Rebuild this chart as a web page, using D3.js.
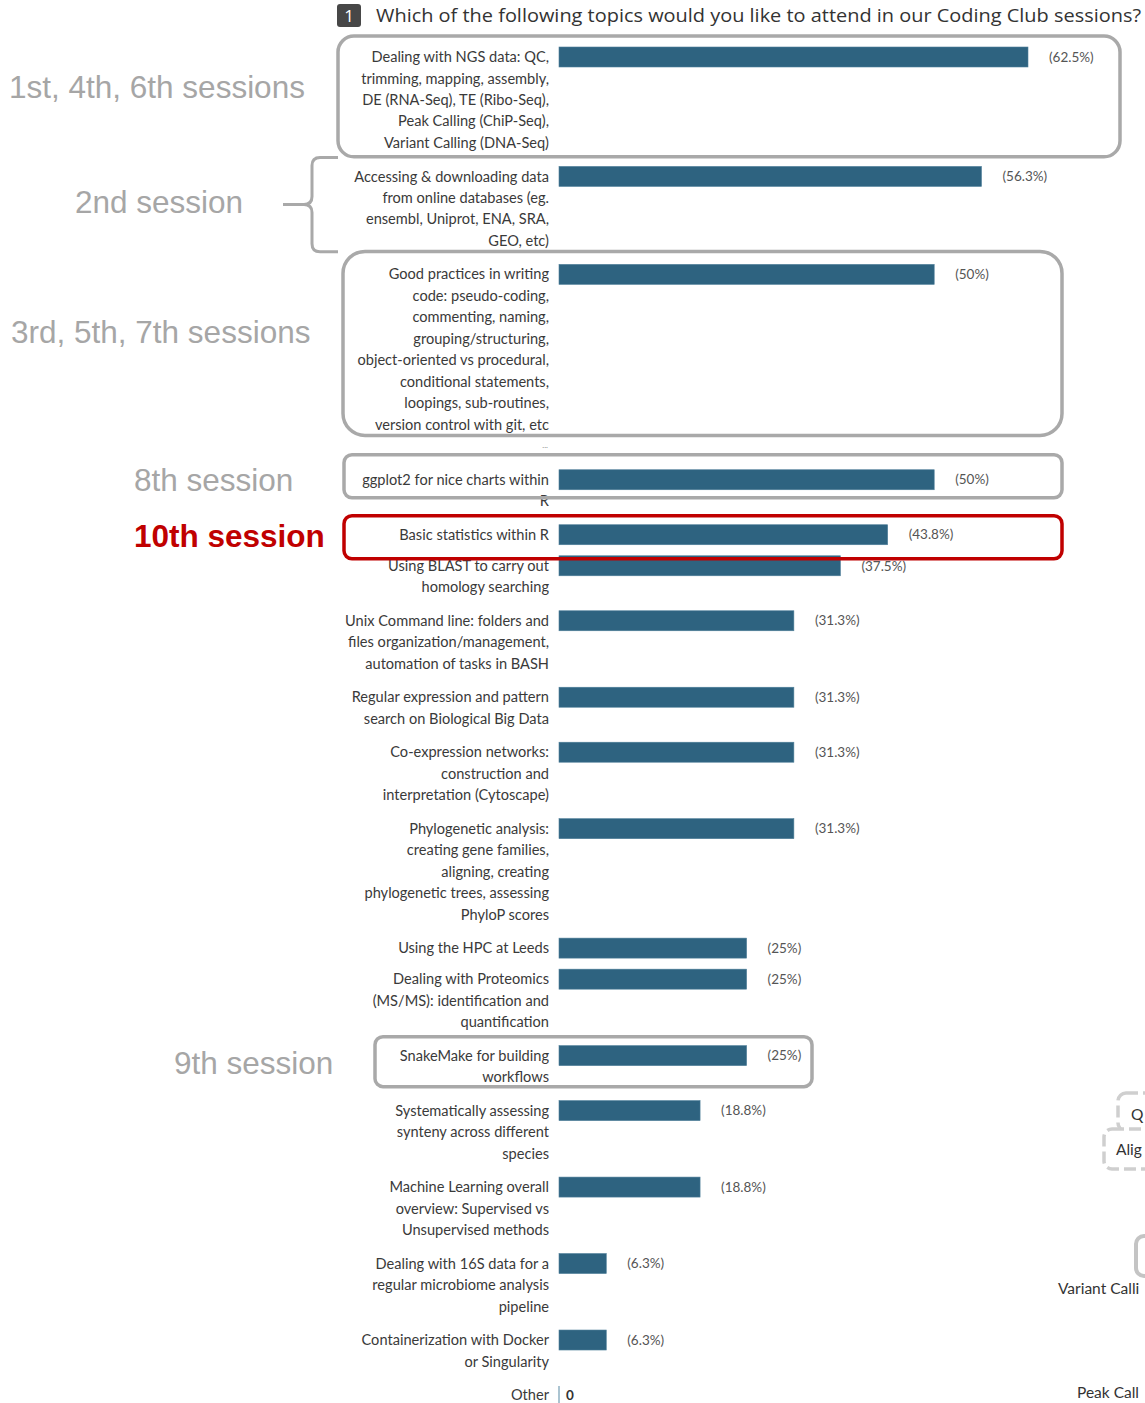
<!DOCTYPE html>
<html>
<head>
<meta charset="utf-8">
<script src="https://cdn.jsdelivr.net/npm/d3@7"></script>
<style>
  html, body { margin: 0; padding: 0; background: #fff; }
  svg { display: block; }
</style>
</head>
<body>
<svg id="chart" width="1145" height="1403"></svg>
<script>
// ---------------- DATA ----------------
const title = "Which of the following topics would you like to attend in our Coding Club sessions?";
const questionNumber = "1";

const categories = [
  ["Dealing with NGS data: QC,", "trimming, mapping, assembly,", "DE (RNA-Seq), TE (Ribo-Seq),", "Peak Calling (ChiP-Seq),", "Variant Calling (DNA-Seq)"],
  ["Accessing & downloading data", "from online databases (eg.", "ensembl, Uniprot, ENA, SRA,", "GEO, etc)"],
  ["Good practices in writing", "code: pseudo-coding,", "commenting, naming,", "grouping/structuring,", "object-oriented vs procedural,", "conditional statements,", "loopings, sub-routines,", "version control with git, etc", "..."],
  ["ggplot2 for nice charts within", "R"],
  ["Basic statistics within R"],
  ["Using BLAST to carry out", "homology searching"],
  ["Unix Command line: folders and", "files organization/management,", "automation of tasks in BASH"],
  ["Regular expression and pattern", "search on Biological Big Data"],
  ["Co-expression networks:", "construction and", "interpretation (Cytoscape)"],
  ["Phylogenetic analysis:", "creating gene families,", "aligning, creating", "phylogenetic trees, assessing", "PhyloP scores"],
  ["Using the HPC at Leeds"],
  ["Dealing with Proteomics", "(MS/MS): identification and", "quantification"],
  ["SnakeMake for building", "workflows"],
  ["Systematically assessing", "synteny across different", "species"],
  ["Machine Learning overall", "overview: Supervised vs", "Unsupervised methods"],
  ["Dealing with 16S data for a", "regular microbiome analysis", "pipeline"],
  ["Containerization with Docker", "or Singularity"],
  ["Other"]
];
const values = [62.5, 56.3, 50, 50, 43.8, 37.5, 31.3, 31.3, 31.3, 31.3, 25, 25, 25, 18.8, 18.8, 6.3, 6.3, 0];

// session annotations (row index they refer to)
const sessionLabels = ["1st, 4th, 6th sessions", "2nd session", "3rd, 5th, 7th sessions", "8th session", "10th session", "9th session"];
const sessionRows = [0, 1, 2, 3, 4, 12];

// visible fragments of a neighbouring figure cut off at the right edge
const fragmentLabels = ["Q", "Alig", "Variant Calli", "Peak Call"];

// ---------------- LAYOUT ----------------
const svg = d3.select("#chart");
const W = 1145, H = 1403;
svg.append("rect").attr("width", W).attr("height", H).attr("fill", "#fff");

const barX0 = 559;
const x = d3.scaleLinear().domain([0, 62.5]).range([barX0, 1028]);

const lineH = 21.45;
const steps = categories.map(c => c.length === 1 ? 31 : c.length * lineH + 12);
const cum = [0];
for (let i = 0; i < steps.length - 1; i++) cum.push(cum[i] + steps[i]);
const y = d3.scaleLinear().domain([0, cum[cum.length - 1]]).range([57, 1395]);
const rowY = i => y(cum[i]);

const barH = 20;
const barColor = "#2e6380";
const labelFont = "Lato, 'Open Sans', sans-serif";

// ---------------- TITLE ----------------
svg.append("rect").attr("x", 337).attr("y", 4).attr("width", 24).attr("height", 23)
  .attr("rx", 3).attr("fill", "#474747");
svg.append("text").attr("x", 349).attr("y", 22).attr("text-anchor", "middle")
  .attr("font-family", "'Open Sans', sans-serif").attr("font-size", 17).attr("fill", "#fff")
  .text(questionNumber);
svg.append("text").attr("x", 376).attr("y", 22)
  .attr("font-family", "'Open Sans', sans-serif").attr("font-size", 18.5).attr("fill", "#333")
  .attr("textLength", 765).attr("lengthAdjust", "spacingAndGlyphs")
  .text(title);

// ---------------- BARS ----------------
const rows = svg.append("g").selectAll("g.row")
  .data(categories.map((c, i) => ({ lines: c, value: values[i], i })))
  .join("g").attr("class", "row");

rows.filter(d => d.value > 0).append("rect")
  .attr("x", x(0))
  .attr("y", d => rowY(d.i) - barH / 2)
  .attr("width", d => x(d.value) - x(0))
  .attr("height", barH)
  .attr("fill", barColor)
  .attr("stroke", "#4f7f99").attr("stroke-width", 0.6);

rows.filter(d => d.value > 0).append("text")
  .attr("x", d => x(d.value) + 21)
  .attr("y", d => rowY(d.i))
  .attr("dy", "0.35em")
  .attr("font-family", labelFont).attr("font-size", 13.5).attr("fill", "#555")
  .text(d => "(" + d.value + "%)");

// zero row ("Other")
rows.filter(d => d.value === 0).each(function (d) {
  const g = d3.select(this);
  g.append("line").attr("x1", x(0)).attr("x2", x(0))
    .attr("y1", rowY(d.i) - 9).attr("y2", rowY(d.i) + 10)
    .attr("stroke", "#8fb0c2").attr("stroke-width", 1.5);
  g.append("text").attr("x", x(0) + 7).attr("y", rowY(d.i)).attr("dy", "0.35em")
    .attr("font-family", labelFont).attr("font-size", 13.5).attr("font-weight", "bold")
    .attr("fill", "#333").text(d.value);
});

// category labels
rows.each(function (d) {
  const g = d3.select(this);
  d.lines.forEach((ln, k) => {
    const t = g.append("text")
      .attr("x", 549)
      .attr("y", rowY(d.i) + k * lineH)
      .attr("dy", "0.35em")
      .attr("text-anchor", "end")
      .attr("font-family", labelFont);
    if (ln === "...") {
      t.attr("font-size", 8).attr("fill", "#888").attr("x", 548).attr("y", rowY(d.i) + k * lineH - 1).text(ln);
    } else {
      t.attr("font-size", 14.6).attr("fill", "#3a3a3a").text(ln);
    }
  });
});

// ---------------- ANNOTATIONS ----------------
const grey = "#a9a9a9";
const ann = svg.append("g");
function box(x0, x1, y0, y1, r, color) {
  ann.append("rect").attr("x", x0).attr("y", y0).attr("width", x1 - x0).attr("height", y1 - y0)
    .attr("rx", r).attr("fill", "none").attr("stroke", color).attr("stroke-width", 3.5);
}
const lastLine = i => rowY(i) + (categories[i].length - 1) * lineH;

box(338, 1120, rowY(0) - 21, lastLine(0) + 14, 16, grey);
box(343, 1062, rowY(2) - 23, rowY(2) + 7 * lineH + 11, 22, grey);
box(344, 1062, rowY(3) - 25, rowY(3) + 18, 8, grey);
box(344, 1062, rowY(4) - 19, rowY(4) + 24, 8, "#c00000");
box(375, 812, rowY(12) - 19, rowY(12) + 31, 8, grey);

// curly brace for 2nd session
{
  const top = rowY(1) - 19, bot = lastLine(1) + 11, mid = rowY(1) + 28;
  const bx = 312, ex = 338, px = 283;
  const p = d3.path();
  p.moveTo(ex, top);
  p.lineTo(bx + 8, top);
  p.quadraticCurveTo(bx, top, bx, top + 8);
  p.lineTo(bx, mid - 8);
  p.quadraticCurveTo(bx, mid, bx - 8, mid);
  p.lineTo(px, mid);
  p.moveTo(bx - 8, mid);
  p.quadraticCurveTo(bx, mid, bx, mid + 8);
  p.lineTo(bx, bot - 8);
  p.quadraticCurveTo(bx, bot, bx + 8, bot);
  p.lineTo(ex, bot);
  ann.append("path").attr("d", p.toString()).attr("fill", "none")
    .attr("stroke", grey).attr("stroke-width", 3);
}

// session labels
const sessionX = [9, 75, 11, 134, 134, 174];
const sessionDy = [30, 26, 58, 0, 1, 7];
sessionLabels.forEach((s, k) => {
  const red = s.startsWith("10th");
  ann.append("text")
    .attr("x", sessionX[k])
    .attr("y", rowY(sessionRows[k]) + sessionDy[k] + 11)
    .attr("font-family", "'Liberation Sans', Arial, sans-serif")
    .attr("font-size", 31.5)
    .attr("font-weight", red ? "bold" : "normal")
    .attr("fill", red ? "#c00000" : "#a6a6a6")
    .text(s);
});

// ---------------- RIGHT-EDGE FRAGMENTS ----------------
const frag = svg.append("g");
frag.append("rect").attr("x", 1118).attr("y", 1093).attr("width", 60).attr("height", 38).attr("rx", 8)
  .attr("fill", "#fff").attr("stroke", "#cfcfcf").attr("stroke-width", 3.5).attr("stroke-dasharray", "12,5");
frag.append("text").attr("x", 1131).attr("y", 1120).attr("font-family", labelFont)
  .attr("font-size", 15.5).attr("fill", "#333").text(fragmentLabels[0]);
frag.append("rect").attr("x", 1104).attr("y", 1129).attr("width", 80).attr("height", 40).attr("rx", 8)
  .attr("fill", "#fff").attr("stroke", "#cfcfcf").attr("stroke-width", 3.5).attr("stroke-dasharray", "12,5");
frag.append("text").attr("x", 1116).attr("y", 1155).attr("font-family", labelFont)
  .attr("font-size", 15.5).attr("fill", "#333").text(fragmentLabels[1]);
frag.append("rect").attr("x", 1136).attr("y", 1236).attr("width", 40).attr("height", 40).attr("rx", 8)
  .attr("fill", "none").attr("stroke", "#c4c4c4").attr("stroke-width", 4);
frag.append("text").attr("x", 1058).attr("y", 1294).attr("font-family", labelFont)
  .attr("font-size", 15.5).attr("fill", "#333").text(fragmentLabels[2]);
frag.append("text").attr("x", 1077).attr("y", 1398).attr("font-family", labelFont)
  .attr("font-size", 15.5).attr("fill", "#333").text(fragmentLabels[3]);
</script>
</body>
</html>
